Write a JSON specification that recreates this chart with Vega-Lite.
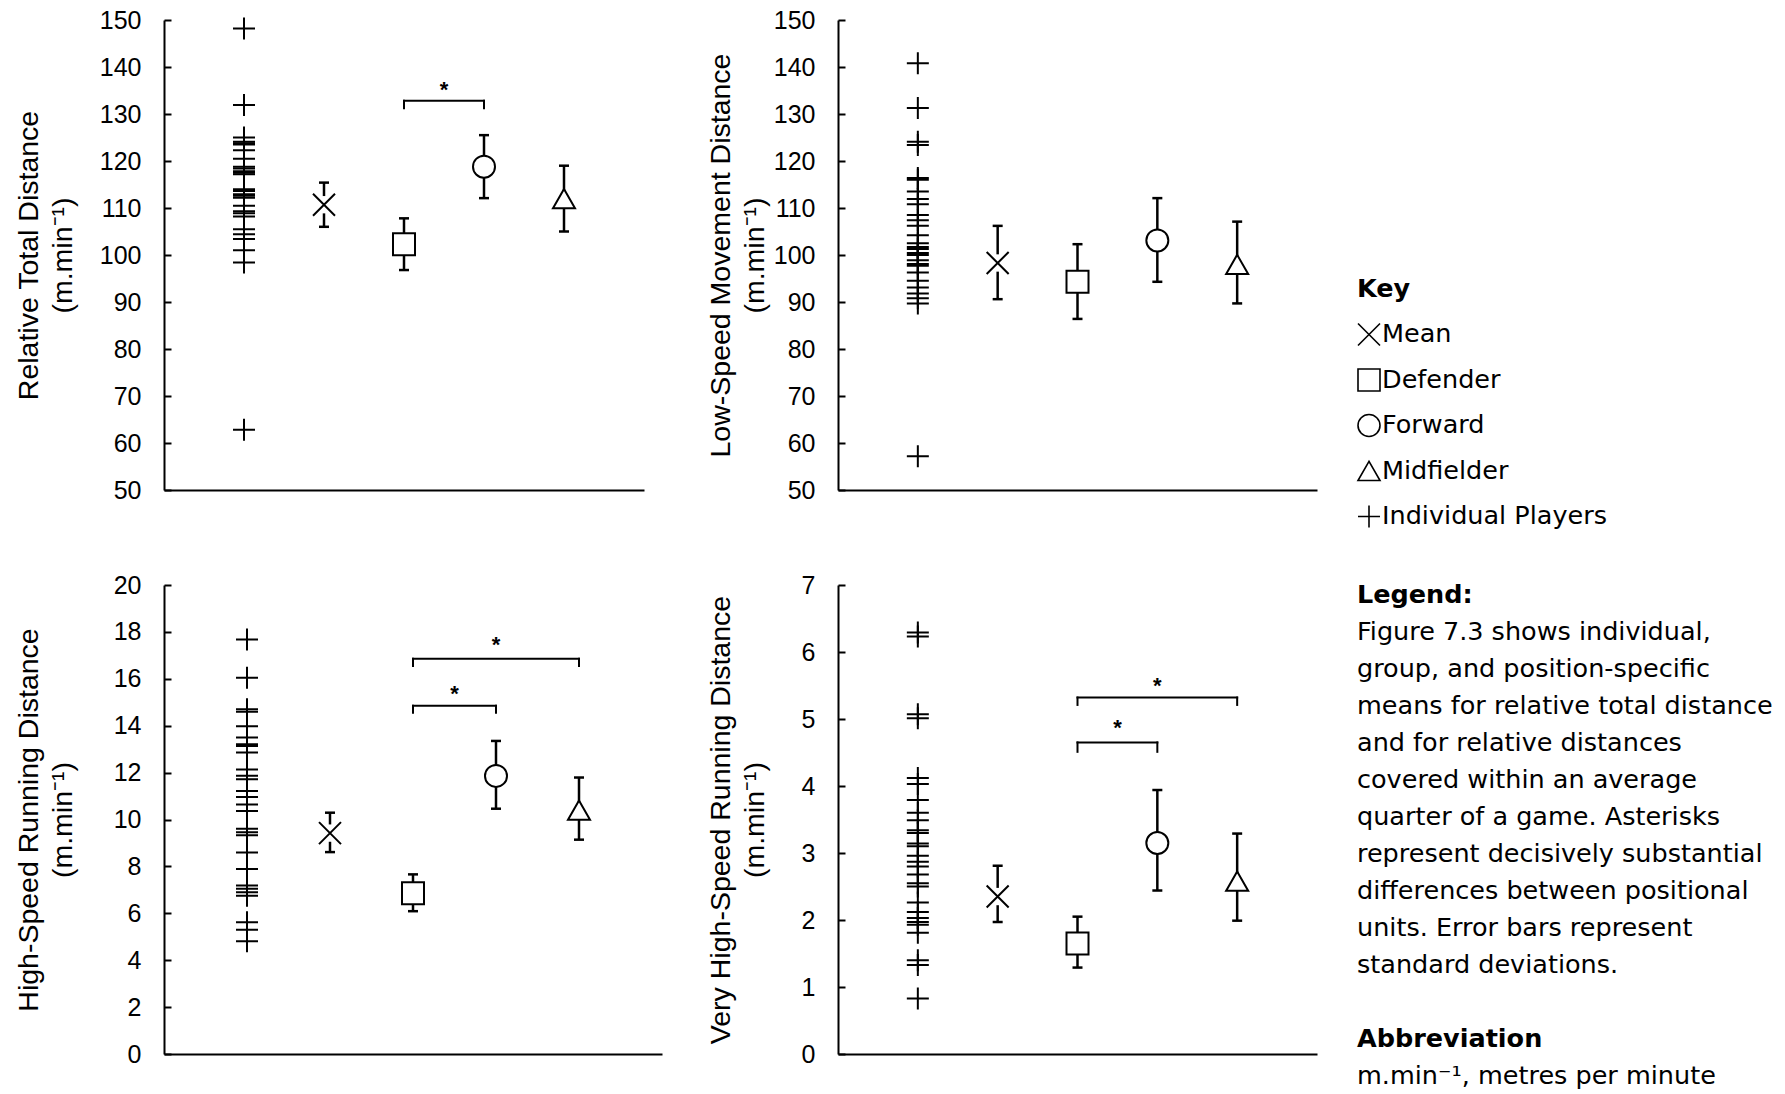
{
"$schema": "https://vega.github.io/schema/vega-lite/v6.json",
"background": "white",
"padding": {"left": 14, "top": 8, "right": 5, "bottom": 5},
"config": {
 "view": {"stroke": null},
 "axis": {"grid": false, "domainColor": "#000", "domainWidth": 2, "ticks": false, "tickSize": 0, "labelPadding": 23, "labelFont": "Liberation Sans", "labelFontSize": 25, "labelColor": "#000", "labelOverlap": false, "labelFlush": false, "titleFont": "Liberation Sans", "titleFontSize": 28.5, "titleFontWeight": "normal", "titleColor": "#000", "titleLineHeight": 34, "titleBaseline": "middle", "titleAlign": "center"},
 "axisY": {"grid": true, "gridColor": "#000", "gridWidth": 2, "gridDash": [7, 3000], "gridOpacity": 1}
},
"datasets": {
 "players1": [{"value":148.2},{"value":131.9},{"value":125.0},{"value":124.1},{"value":123.8},{"value":123.5},{"value":122.3},{"value":120.5},{"value":118.8},{"value":118.4},{"value":117.8},{"value":117.5},{"value":117.2},{"value":114.0},{"value":113.6},{"value":112.9},{"value":112.6},{"value":112.2},{"value":110.5},{"value":109.3},{"value":108.9},{"value":108.2},{"value":105.5},{"value":104.4},{"value":103.4},{"value":101.0},{"value":98.4},{"value":62.8}],
 "players2": [{"value":140.8},{"value":131.3},{"value":124.1},{"value":123.4},{"value":116.4},{"value":116.0},{"value":113.5},{"value":111.9},{"value":110.8},{"value":108.5},{"value":107.4},{"value":106.2},{"value":104.2},{"value":102.5},{"value":101.7},{"value":101.3},{"value":100.4},{"value":100.0},{"value":98.9},{"value":98.1},{"value":97.7},{"value":96.3},{"value":94.5},{"value":93.1},{"value":91.8},{"value":90.8},{"value":89.7},{"value":57.2}],
 "players3": [{"value":17.68},{"value":16.04},{"value":14.7},{"value":14.6},{"value":13.98},{"value":13.5},{"value":13.21},{"value":13.13},{"value":12.86},{"value":12.13},{"value":11.87},{"value":11.72},{"value":11.22},{"value":10.96},{"value":10.64},{"value":10.36},{"value":9.61},{"value":9.46},{"value":9.33},{"value":8.59},{"value":7.89},{"value":7.19},{"value":7.05},{"value":6.9},{"value":6.75},{"value":5.62},{"value":5.3},{"value":4.81}],
 "players4": [{"value":6.29},{"value":6.23},{"value":5.07},{"value":5.01},{"value":4.12},{"value":4.03},{"value":3.79},{"value":3.6},{"value":3.49},{"value":3.34},{"value":3.3},{"value":3.14},{"value":3.1},{"value":2.96},{"value":2.87},{"value":2.8},{"value":2.68},{"value":2.55},{"value":2.5},{"value":2.26},{"value":2.12},{"value":2.03},{"value":1.97},{"value":1.93},{"value":1.81},{"value":1.4},{"value":1.33},{"value":0.83}],
 "summary1": [{"group":"Mean","pos":2,"mean":110.7,"lo":106.0,"hi":115.4},{"group":"Defender","pos":3,"mean":102.3,"lo":96.8,"hi":107.8},{"group":"Forward","pos":4,"mean":118.8,"lo":112.1,"hi":125.5},{"group":"Midfielder","pos":5,"mean":112.0,"lo":105.0,"hi":119.0}],
 "summary2": [{"group":"Mean","pos":2,"mean":98.3,"lo":90.6,"hi":106.2},{"group":"Defender","pos":3,"mean":94.3,"lo":86.4,"hi":102.3},{"group":"Forward","pos":4,"mean":103.1,"lo":94.3,"hi":112.1},{"group":"Midfielder","pos":5,"mean":98.0,"lo":89.7,"hi":107.1}],
 "summary3": [{"group":"Mean","pos":2,"mean":9.42,"lo":8.61,"hi":10.29},{"group":"Defender","pos":3,"mean":6.85,"lo":6.09,"hi":7.66},{"group":"Forward","pos":4,"mean":11.86,"lo":10.46,"hi":13.35},{"group":"Midfielder","pos":5,"mean":10.4,"lo":9.14,"hi":11.79}],
 "summary4": [{"group":"Mean","pos":2,"mean":2.35,"lo":1.97,"hi":2.81},{"group":"Defender","pos":3,"mean":1.65,"lo":1.29,"hi":2.05},{"group":"Forward","pos":4,"mean":3.15,"lo":2.44,"hi":3.94},{"group":"Midfielder","pos":5,"mean":2.58,"lo":1.99,"hi":3.29}],
 "brackets1": [{"x1":3,"x2":4,"xm":3.5,"y":132.8,"low":131.2,"star":135.7}],
 "brackets3": [{"x1":3,"x2":4,"xm":3.5,"y":14.85,"low":14.55,"star":15.5},{"x1":3,"x2":5,"xm":4,"y":16.85,"low":16.55,"star":17.58}],
 "brackets4": [{"x1":3,"x2":4,"xm":3.5,"y":4.65,"low":4.51,"star":4.91},{"x1":3,"x2":5,"xm":4,"y":5.32,"low":5.21,"star":5.53}],
 "keyItems": [{"slot":0,"label":"Key","kind":"head"},{"slot":1,"label":"Mean","kind":"item","sym":"Mean"},{"slot":2,"label":"Defender","kind":"item","sym":"Defender"},{"slot":3,"label":"Forward","kind":"item","sym":"Forward"},{"slot":4,"label":"Midfielder","kind":"item","sym":"Midfielder"},{"slot":5,"label":"Individual Players","kind":"item","sym":"Individual Players"}],
 "notes": [{"line":0,"text":"Legend:","bold":true},{"line":1,"text":"Figure 7.3 shows individual,","bold":false},{"line":2,"text":"group, and position-specific","bold":false},{"line":3,"text":"means for relative total distance","bold":false},{"line":4,"text":"and for relative distances","bold":false},{"line":5,"text":"covered within an average","bold":false},{"line":6,"text":"quarter of a game. Asterisks","bold":false},{"line":7,"text":"represent decisively substantial","bold":false},{"line":8,"text":"differences between positional","bold":false},{"line":9,"text":"units. Error bars represent","bold":false},{"line":10,"text":"standard deviations.","bold":false},{"line":12,"text":"Abbreviation","bold":true},{"line":13,"text":"m.min⁻¹, metres per minute","bold":false}]
},
"bounds": "flush",
"align": "each",
"columns": 3,
"spacing": {"row": 95, "column": 176},
"concat": [
   {"width": 480, "height": 470, "layer": [
    {"data": {"name": "players1"}, "mark": {"type": "point", "shape": "M-1,0L1,0M0,-1L0,1", "size": 484, "strokeWidth": 2, "stroke": "#000", "filled": false, "opacity": 1},
     "encoding": {"x": {"datum": 1, "type": "quantitative", "scale": {"domain": [0, 6], "nice": false, "zero": false}, "axis": {"title": null, "labels": false}},
      "y": {"field": "value", "type": "quantitative", "scale": {"domain": [50, 150], "nice": false, "zero": false}, "axis": {"title": ["Relative Total Distance", "(m.min⁻¹)"], "values": [50,60,70,80,90,100,110,120,130,140,150], "titleX": -135.5}}}},
    {"data": {"name": "summary1"}, "layer": [
     {"mark": {"type": "rule", "strokeWidth": 2.5, "color": "#000"}, "encoding": {"x": {"field": "pos", "type": "quantitative"}, "y": {"field": "lo", "type": "quantitative"}, "y2": {"field": "hi"}}},
     {"mark": {"type": "tick", "orient": "horizontal", "size": 10, "thickness": 2.5, "color": "#000", "opacity": 1}, "encoding": {"x": {"field": "pos", "type": "quantitative"}, "y": {"field": "lo", "type": "quantitative"}}},
     {"mark": {"type": "tick", "orient": "horizontal", "size": 10, "thickness": 2.5, "color": "#000", "opacity": 1}, "encoding": {"x": {"field": "pos", "type": "quantitative"}, "y": {"field": "hi", "type": "quantitative"}}},
     {"transform": [{"filter": "datum.group == 'Mean'"}], "mark": {"type": "point", "shape": "square", "size": 300, "filled": true, "fill": "#fff", "strokeWidth": 0, "opacity": 1}, "encoding": {"x": {"field": "pos", "type": "quantitative"}, "y": {"field": "mean", "type": "quantitative"}}},
     {"mark": {"type": "point", "filled": true, "fill": "#fff", "stroke": "#000", "strokeWidth": 2, "opacity": 1}, "encoding": {"x": {"field": "pos", "type": "quantitative"}, "y": {"field": "mean", "type": "quantitative"},
      "shape": {"field": "group", "type": "nominal", "scale": {"domain": ["Mean","Defender","Forward","Midfielder","Individual Players"], "range": ["M-1,-1L1,1M-1,1L1,-1","square","circle","triangle-up","M-1,0L1,0M0,-1L0,1"]}, "legend": null},
      "size": {"field": "group", "type": "ordinal", "scale": {"domain": ["Mean","Defender","Forward","Midfielder"], "range": [484,484,484,580]}, "legend": null}}}
    ]},
    {"data": {"name": "brackets1"}, "layer": [
     {"mark": {"type": "rule", "strokeWidth": 2, "color": "#000", "strokeCap": "square"}, "encoding": {"x": {"field": "x1", "type": "quantitative"}, "x2": {"field": "x2"}, "y": {"field": "y", "type": "quantitative"}}},
     {"mark": {"type": "rule", "strokeWidth": 2, "color": "#000", "strokeCap": "square"}, "encoding": {"x": {"field": "x1", "type": "quantitative"}, "y": {"field": "y", "type": "quantitative"}, "y2": {"field": "low"}}},
     {"mark": {"type": "rule", "strokeWidth": 2, "color": "#000", "strokeCap": "square"}, "encoding": {"x": {"field": "x2", "type": "quantitative"}, "y": {"field": "y", "type": "quantitative"}, "y2": {"field": "low"}}},
     {"mark": {"type": "text", "text": "*", "font": "Liberation Sans", "fontSize": 22, "fontWeight": "bold", "align": "center", "baseline": "middle", "dy": 3, "color": "#000"}, "encoding": {"x": {"field": "xm", "type": "quantitative"}, "y": {"field": "star", "type": "quantitative"}}}
    ]}
   ]},
   {"width": 479, "height": 470, "layer": [
    {"data": {"name": "players2"}, "mark": {"type": "point", "shape": "M-1,0L1,0M0,-1L0,1", "size": 484, "strokeWidth": 2, "stroke": "#000", "filled": false, "opacity": 1},
     "encoding": {"x": {"datum": 1, "type": "quantitative", "scale": {"domain": [0, 6], "nice": false, "zero": false}, "axis": {"title": null, "labels": false}},
      "y": {"field": "value", "type": "quantitative", "scale": {"domain": [50, 150], "nice": false, "zero": false}, "axis": {"title": ["Low-Speed Movement Distance", "(m.min⁻¹)"], "values": [50,55,60,65,70,75,80,85,90,95,100,105,110,115,120,125,130,135,140,145,150], "labelExpr": "datum.value % 10 == 0 ? '' + datum.value : ''", "titleX": -117.3}}}},
    {"data": {"name": "summary2"}, "layer": [
     {"mark": {"type": "rule", "strokeWidth": 2.5, "color": "#000"}, "encoding": {"x": {"field": "pos", "type": "quantitative"}, "y": {"field": "lo", "type": "quantitative"}, "y2": {"field": "hi"}}},
     {"mark": {"type": "tick", "orient": "horizontal", "size": 10, "thickness": 2.5, "color": "#000", "opacity": 1}, "encoding": {"x": {"field": "pos", "type": "quantitative"}, "y": {"field": "lo", "type": "quantitative"}}},
     {"mark": {"type": "tick", "orient": "horizontal", "size": 10, "thickness": 2.5, "color": "#000", "opacity": 1}, "encoding": {"x": {"field": "pos", "type": "quantitative"}, "y": {"field": "hi", "type": "quantitative"}}},
     {"transform": [{"filter": "datum.group == 'Mean'"}], "mark": {"type": "point", "shape": "square", "size": 300, "filled": true, "fill": "#fff", "strokeWidth": 0, "opacity": 1}, "encoding": {"x": {"field": "pos", "type": "quantitative"}, "y": {"field": "mean", "type": "quantitative"}}},
     {"mark": {"type": "point", "filled": true, "fill": "#fff", "stroke": "#000", "strokeWidth": 2, "opacity": 1}, "encoding": {"x": {"field": "pos", "type": "quantitative"}, "y": {"field": "mean", "type": "quantitative"},
      "shape": {"field": "group", "type": "nominal", "scale": {"domain": ["Mean","Defender","Forward","Midfielder","Individual Players"], "range": ["M-1,-1L1,1M-1,1L1,-1","square","circle","triangle-up","M-1,0L1,0M0,-1L0,1"]}, "legend": null},
      "size": {"field": "group", "type": "ordinal", "scale": {"domain": ["Mean","Defender","Forward","Midfielder"], "range": [484,484,484,580]}, "legend": null}}}
    ]}
   ]},
   {"width": 420, "height": 470, "resolve": {"scale": {"y": "independent"}}, "layer": [
    {"data": {"name": "keyItems"}, "transform": [{"filter": "datum.kind == 'head'"}], "mark": {"type": "text", "font": "DejaVu Sans", "fontSize": 25.5, "fontWeight": "bold", "align": "left", "baseline": "middle", "dx": -136, "color": "#000"},
     "encoding": {"x": {"datum": 0, "type": "quantitative", "scale": {"domain": [0, 1], "nice": false, "zero": false}, "axis": null}, "y": {"field": "slot", "type": "quantitative", "scale": {"domain": [-5.912, 4.418], "reverse": true, "nice": false, "zero": false}, "axis": null}, "text": {"field": "label"}}},
    {"data": {"name": "keyItems"}, "transform": [{"filter": "datum.kind == 'item'"}], "mark": {"type": "point", "filled": true, "fill": "#fff", "stroke": "#000", "strokeWidth": 1.6, "opacity": 1},
     "encoding": {"x": {"datum": 0, "type": "quantitative", "axis": null}, "xOffset": {"value": -124}, "y": {"field": "slot", "type": "quantitative", "scale": {"domain": [-5.912, 4.418], "reverse": true, "nice": false, "zero": false}, "axis": null},
      "shape": {"field": "sym", "type": "nominal", "scale": {"domain": ["Mean","Defender","Forward","Midfielder","Individual Players"], "range": ["M-1,-1L1,1M-1,1L1,-1","square","circle","triangle-up","M-1,0L1,0M0,-1L0,1"]}, "legend": null},
      "size": {"field": "sym", "type": "ordinal", "scale": {"domain": ["Mean","Defender","Forward","Midfielder","Individual Players"], "range": [200,200,180,250,220]}, "legend": null}}},
    {"data": {"name": "keyItems"}, "transform": [{"filter": "datum.kind == 'item'"}], "mark": {"type": "text", "font": "DejaVu Sans", "fontSize": 25.5, "align": "left", "baseline": "middle", "dx": -111, "color": "#000"},
     "encoding": {"x": {"datum": 0, "type": "quantitative", "axis": null}, "y": {"field": "slot", "type": "quantitative", "scale": {"domain": [-5.912, 4.418], "reverse": true, "nice": false, "zero": false}, "axis": null}, "text": {"field": "label"}}},
    {"data": {"name": "notes"}, "transform": [{"filter": "datum.bold"}], "mark": {"type": "text", "font": "DejaVu Sans", "fontSize": 25.5, "fontWeight": "bold", "align": "left", "baseline": "middle", "dx": -136, "color": "#000"},
     "encoding": {"x": {"datum": 0, "type": "quantitative", "axis": null}, "y": {"field": "line", "type": "quantitative", "scale": {"domain": [-15.541, -2.838], "reverse": true, "nice": false, "zero": false}, "axis": null}, "text": {"field": "text"}}},
    {"data": {"name": "notes"}, "transform": [{"filter": "!datum.bold"}], "mark": {"type": "text", "font": "DejaVu Sans", "fontSize": 25.5, "align": "left", "baseline": "middle", "dx": -136, "color": "#000"},
     "encoding": {"x": {"datum": 0, "type": "quantitative", "axis": null}, "y": {"field": "line", "type": "quantitative", "scale": {"domain": [-15.541, -2.838], "reverse": true, "nice": false, "zero": false}, "axis": null}, "text": {"field": "text"}}}
   ]},
   {"width": 498, "height": 469, "layer": [
    {"data": {"name": "players3"}, "mark": {"type": "point", "shape": "M-1,0L1,0M0,-1L0,1", "size": 484, "strokeWidth": 2, "stroke": "#000", "filled": false, "opacity": 1},
     "encoding": {"x": {"datum": 1, "type": "quantitative", "scale": {"domain": [0, 6], "nice": false, "zero": false}, "axis": {"title": null, "labels": false}},
      "y": {"field": "value", "type": "quantitative", "scale": {"domain": [0, 20], "nice": false, "zero": false}, "axis": {"title": ["High-Speed Running Distance", "(m.min⁻¹)"], "values": [0,1,2,3,4,5,6,7,8,9,10,11,12,13,14,15,16,17,18,19,20], "labelExpr": "datum.value % 2 == 0 ? '' + datum.value : ''", "titleX": -135.5}}}},
    {"data": {"name": "summary3"}, "layer": [
     {"mark": {"type": "rule", "strokeWidth": 2.5, "color": "#000"}, "encoding": {"x": {"field": "pos", "type": "quantitative"}, "y": {"field": "lo", "type": "quantitative"}, "y2": {"field": "hi"}}},
     {"mark": {"type": "tick", "orient": "horizontal", "size": 10, "thickness": 2.5, "color": "#000", "opacity": 1}, "encoding": {"x": {"field": "pos", "type": "quantitative"}, "y": {"field": "lo", "type": "quantitative"}}},
     {"mark": {"type": "tick", "orient": "horizontal", "size": 10, "thickness": 2.5, "color": "#000", "opacity": 1}, "encoding": {"x": {"field": "pos", "type": "quantitative"}, "y": {"field": "hi", "type": "quantitative"}}},
     {"transform": [{"filter": "datum.group == 'Mean'"}], "mark": {"type": "point", "shape": "square", "size": 300, "filled": true, "fill": "#fff", "strokeWidth": 0, "opacity": 1}, "encoding": {"x": {"field": "pos", "type": "quantitative"}, "y": {"field": "mean", "type": "quantitative"}}},
     {"mark": {"type": "point", "filled": true, "fill": "#fff", "stroke": "#000", "strokeWidth": 2, "opacity": 1}, "encoding": {"x": {"field": "pos", "type": "quantitative"}, "y": {"field": "mean", "type": "quantitative"},
      "shape": {"field": "group", "type": "nominal", "scale": {"domain": ["Mean","Defender","Forward","Midfielder","Individual Players"], "range": ["M-1,-1L1,1M-1,1L1,-1","square","circle","triangle-up","M-1,0L1,0M0,-1L0,1"]}, "legend": null},
      "size": {"field": "group", "type": "ordinal", "scale": {"domain": ["Mean","Defender","Forward","Midfielder"], "range": [484,484,484,580]}, "legend": null}}}
    ]},
    {"data": {"name": "brackets3"}, "layer": [
     {"mark": {"type": "rule", "strokeWidth": 2, "color": "#000", "strokeCap": "square"}, "encoding": {"x": {"field": "x1", "type": "quantitative"}, "x2": {"field": "x2"}, "y": {"field": "y", "type": "quantitative"}}},
     {"mark": {"type": "rule", "strokeWidth": 2, "color": "#000", "strokeCap": "square"}, "encoding": {"x": {"field": "x1", "type": "quantitative"}, "y": {"field": "y", "type": "quantitative"}, "y2": {"field": "low"}}},
     {"mark": {"type": "rule", "strokeWidth": 2, "color": "#000", "strokeCap": "square"}, "encoding": {"x": {"field": "x2", "type": "quantitative"}, "y": {"field": "y", "type": "quantitative"}, "y2": {"field": "low"}}},
     {"mark": {"type": "text", "text": "*", "font": "Liberation Sans", "fontSize": 22, "fontWeight": "bold", "align": "center", "baseline": "middle", "dy": 3, "color": "#000"}, "encoding": {"x": {"field": "xm", "type": "quantitative"}, "y": {"field": "star", "type": "quantitative"}}}
    ]}
   ]},
   {"width": 479, "height": 469, "layer": [
    {"data": {"name": "players4"}, "mark": {"type": "point", "shape": "M-1,0L1,0M0,-1L0,1", "size": 484, "strokeWidth": 2, "stroke": "#000", "filled": false, "opacity": 1},
     "encoding": {"x": {"datum": 1, "type": "quantitative", "scale": {"domain": [0, 6], "nice": false, "zero": false}, "axis": {"title": null, "labels": false}},
      "y": {"field": "value", "type": "quantitative", "scale": {"domain": [0, 7], "nice": false, "zero": false}, "axis": {"title": ["Very High-Speed Running Distance", "(m.min⁻¹)"], "values": [0,0.5,1,1.5,2,2.5,3,3.5,4,4.5,5,5.5,6,6.5,7], "labelExpr": "datum.value % 1 == 0 ? '' + datum.value : ''", "titleX": -117.3}}}},
    {"data": {"name": "summary4"}, "layer": [
     {"mark": {"type": "rule", "strokeWidth": 2.5, "color": "#000"}, "encoding": {"x": {"field": "pos", "type": "quantitative"}, "y": {"field": "lo", "type": "quantitative"}, "y2": {"field": "hi"}}},
     {"mark": {"type": "tick", "orient": "horizontal", "size": 10, "thickness": 2.5, "color": "#000", "opacity": 1}, "encoding": {"x": {"field": "pos", "type": "quantitative"}, "y": {"field": "lo", "type": "quantitative"}}},
     {"mark": {"type": "tick", "orient": "horizontal", "size": 10, "thickness": 2.5, "color": "#000", "opacity": 1}, "encoding": {"x": {"field": "pos", "type": "quantitative"}, "y": {"field": "hi", "type": "quantitative"}}},
     {"transform": [{"filter": "datum.group == 'Mean'"}], "mark": {"type": "point", "shape": "square", "size": 300, "filled": true, "fill": "#fff", "strokeWidth": 0, "opacity": 1}, "encoding": {"x": {"field": "pos", "type": "quantitative"}, "y": {"field": "mean", "type": "quantitative"}}},
     {"mark": {"type": "point", "filled": true, "fill": "#fff", "stroke": "#000", "strokeWidth": 2, "opacity": 1}, "encoding": {"x": {"field": "pos", "type": "quantitative"}, "y": {"field": "mean", "type": "quantitative"},
      "shape": {"field": "group", "type": "nominal", "scale": {"domain": ["Mean","Defender","Forward","Midfielder","Individual Players"], "range": ["M-1,-1L1,1M-1,1L1,-1","square","circle","triangle-up","M-1,0L1,0M0,-1L0,1"]}, "legend": null},
      "size": {"field": "group", "type": "ordinal", "scale": {"domain": ["Mean","Defender","Forward","Midfielder"], "range": [484,484,484,580]}, "legend": null}}}
    ]},
    {"data": {"name": "brackets4"}, "layer": [
     {"mark": {"type": "rule", "strokeWidth": 2, "color": "#000", "strokeCap": "square"}, "encoding": {"x": {"field": "x1", "type": "quantitative"}, "x2": {"field": "x2"}, "y": {"field": "y", "type": "quantitative"}}},
     {"mark": {"type": "rule", "strokeWidth": 2, "color": "#000", "strokeCap": "square"}, "encoding": {"x": {"field": "x1", "type": "quantitative"}, "y": {"field": "y", "type": "quantitative"}, "y2": {"field": "low"}}},
     {"mark": {"type": "rule", "strokeWidth": 2, "color": "#000", "strokeCap": "square"}, "encoding": {"x": {"field": "x2", "type": "quantitative"}, "y": {"field": "y", "type": "quantitative"}, "y2": {"field": "low"}}},
     {"mark": {"type": "text", "text": "*", "font": "Liberation Sans", "fontSize": 22, "fontWeight": "bold", "align": "center", "baseline": "middle", "dy": 3, "color": "#000"}, "encoding": {"x": {"field": "xm", "type": "quantitative"}, "y": {"field": "star", "type": "quantitative"}}}
    ]}
   ]}
]
}
